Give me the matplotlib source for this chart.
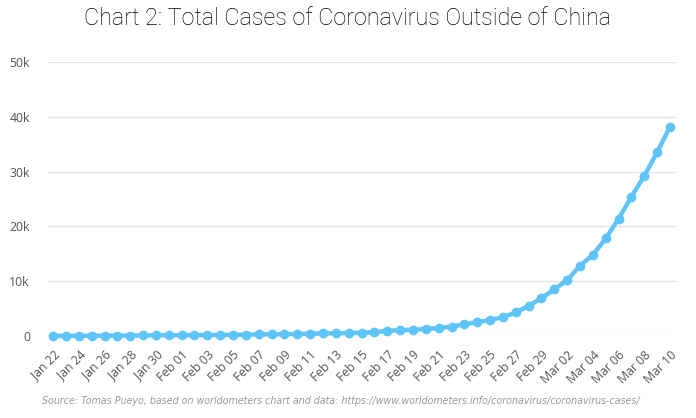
import matplotlib.pyplot as plt
import pandas as pd

dates = pd.date_range('2020-01-22', '2020-03-10')
labels = [d.strftime('%b %d') for d in dates]
cases = [10, 20, 30, 45, 55, 65, 85, 100, 115, 135,
         150, 165, 180, 195, 215, 240, 290, 310, 330, 350, 420, 470, 490, 540, 580, 700,
         950, 1050, 1150, 1280, 1450, 1700, 2150, 2550, 2900, 3450, 4300, 5500, 6900,
         8500, 10200, 12800, 14800, 17800, 21400, 25400, 29200, 33500, 38200]

fig = plt.figure(figsize=(6.96, 4.18), dpi=100)
ax = fig.add_axes([48/696, 1-336/418, 628/696, 274/418])

x = list(range(len(cases)))
ax.plot(x, cases, color='#5fc5f8', lw=3.2, marker='o', ms=6, clip_on=False, zorder=3)

ax.set_xlim(-0.4, len(cases) - 1 + 0.47)
ax.set_ylim(0, 50000)
ax.set_yticks([0, 10000, 20000, 30000, 40000, 50000])
ax.set_yticklabels(['0', '10k', '20k', '30k', '40k', '50k'], family='Open Sans')
ax.set_xticks(x[::2])
ax.set_xticklabels(labels[::2], rotation=45, ha='right', rotation_mode='anchor', family='Open Sans')
ax.grid(axis='y', color='#e3e3e3', lw=1)
ax.set_axisbelow(True)
for s in ax.spines.values():
    s.set_visible(False)
ax.tick_params(length=0, labelsize=8.8, labelcolor='#555555')
ax.tick_params(axis='y', pad=13)
ax.tick_params(axis='x', pad=9)

fig.text(0.5, 0.955, 'Chart 2: Total Cases of Coronavirus Outside of China',
         ha='center', va='center', fontsize=16.8, family='Roboto', weight='light', color='#000000')
fig.text(0.49, 0.04, 'Source: Tomas Pueyo, based on worldometers chart and data: '
         'https://www.worldometers.info/coronavirus/coronavirus-cases/',
         ha='center', va='center', fontsize=6.85, style='italic', color='#999999')

fig.savefig('out.png', dpi=100)
